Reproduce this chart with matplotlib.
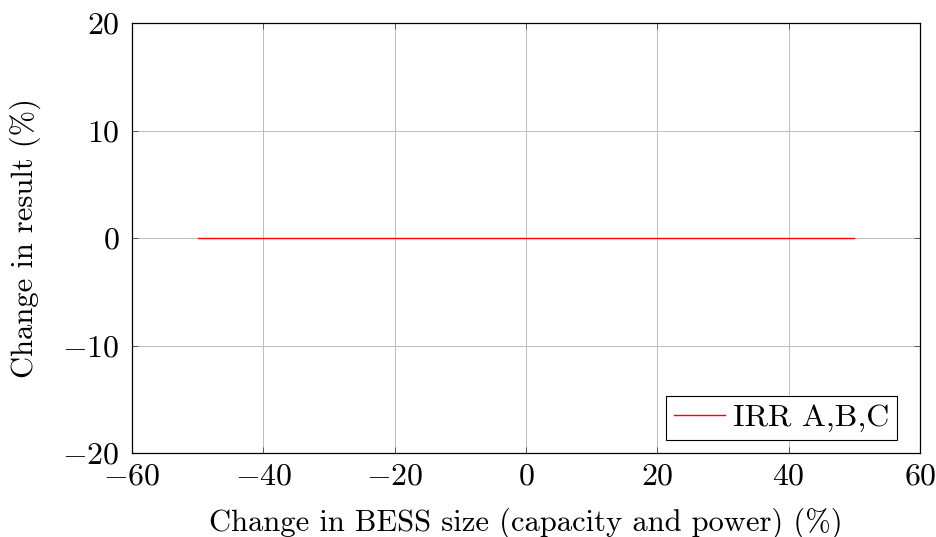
import matplotlib
matplotlib.use("Agg")
import matplotlib.pyplot as plt

# BESS size sensitivity: change in size vs change in IRR
size_change = [-50, -25, 0, 25, 50]
irr_change = [0, 0, 0, 0, 0]

plt.rcParams["font.family"] = "cmr10"
plt.rcParams["mathtext.fontset"] = "cm"
plt.rcParams["axes.formatter.use_mathtext"] = True
plt.rcParams["font.size"] = 23

fig = plt.figure(figsize=(9.36, 5.37), dpi=100)
ax = fig.add_axes([0.141, 0.156, 0.842, 0.801])

ax.plot(size_change, irr_change, color="red", linewidth=1.0, label="IRR A,B,C")

ax.set_xlim(-60, 60)
ax.set_ylim(-20, 20)
ax.set_xticks([-60, -40, -20, 0, 20, 40, 60])
ax.set_yticks([-20, -10, 0, 10, 20])
ax.grid(True, color="#bdbdbd", linewidth=0.7)
ax.set_axisbelow(True)
ax.tick_params(direction="in", length=4, width=0.7, color="#555555",
               top=True, right=True)
ax.tick_params(axis="x", pad=7)
ax.tick_params(axis="y", pad=9)
for s in ax.spines.values():
    s.set_linewidth(0.9)

ax.set_xlabel("Change in BESS size (capacity and power) (%)", fontsize=22, labelpad=12)
ax.set_ylabel("Change in result (%)", fontsize=22, labelpad=15)

leg = ax.legend(loc="lower right", bbox_to_anchor=(0.971, 0.03),
                fancybox=False, framealpha=1, edgecolor="black",
                handlelength=1.6, handletextpad=0.25, borderpad=0.25,
                borderaxespad=0.0)
leg.get_frame().set_linewidth(0.8)

fig.savefig("out.png", dpi=100)
